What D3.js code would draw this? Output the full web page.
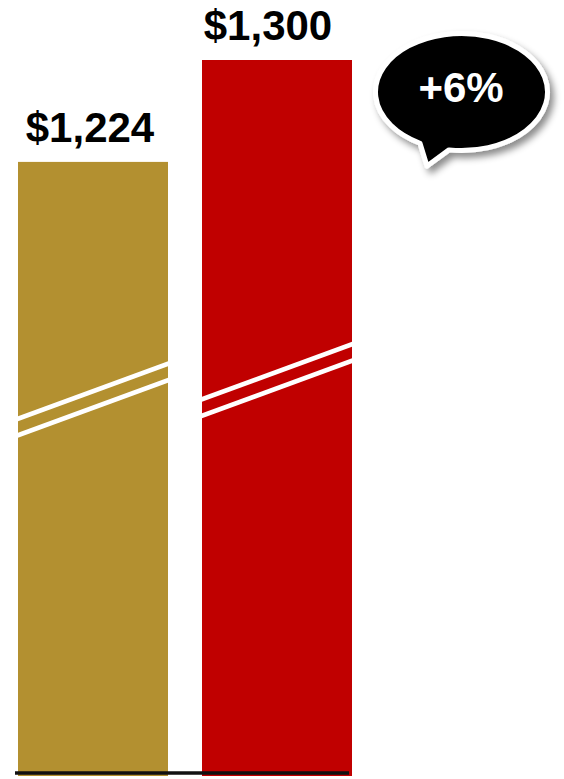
<!DOCTYPE html>
<html>
<head>
<meta charset="utf-8">
<script src="https://cdn.jsdelivr.net/npm/d3@7"></script>
<style>
  html, body { margin: 0; padding: 0; background: #fff; }
  svg { display: block; }
  .value-label { font-family: "Liberation Sans", Arial, sans-serif; font-weight: bold; font-size: 42px; fill: #000; }
  .bubble-label { font-family: "Liberation Sans", Arial, sans-serif; font-weight: bold; font-size: 42px; fill: #fff; }
</style>
</head>
<body>
<div id="chart"></div>
<script>
// chart data
const categories = ['before', 'after'];
const values = [1224, 1300];
const valueLabels = ['$1,224', '$1,300'];
const barColors = ['#B39030', '#C00000'];
const changeLabel = '+6%';

// chart static params
const width = 564, height = 779;
const baseY = 776;            // bars run a bit under the baseline
const axisFloor = 766;        // broken axis: value that sits at the bottom
const labelGap = 20;
const labelNudge = [-3, -9];
const breakMid = [399.5, 380];  // y of the break marks at bar centre
const breakSlope = -0.366;
const breakGap = 8.25;

const svg = d3.select('#chart')
  .append('svg')
    .attr('width', width)
    .attr('height', height);

// scales
const x = d3.scaleBand()
  .domain(categories)
  .range([18, 352])
  .paddingInner(34 / 184)
  .paddingOuter(0);

const y = d3.scaleLinear()
  .domain([axisFloor, 1300])
  .range([baseY, 60]);

const rows = categories.map((c, i) => ({ cat: c, value: values[i], label: valueLabels[i], color: barColors[i], i: i }));

// clip paths for the break marks
const defs = svg.append('defs');
rows.forEach(d => {
  defs.append('clipPath')
      .attr('id', 'clip-' + d.i)
    .append('rect')
      .attr('x', x(d.cat))
      .attr('y', y(d.value))
      .attr('width', x.bandwidth())
      .attr('height', baseY - y(d.value));
});

// bubble shadow
const shadow = defs.append('filter')
    .attr('id', 'shadow')
    .attr('x', '-20%').attr('y', '-20%')
    .attr('width', '150%').attr('height', '150%');
shadow.append('feDropShadow')
    .attr('dx', 4).attr('dy', 5)
    .attr('stdDeviation', 3.5)
    .attr('flood-color', '#000')
    .attr('flood-opacity', 0.45);

// bars
svg.selectAll('rect.bar')
  .data(rows)
  .join('rect')
    .attr('class', 'bar')
    .attr('x', d => x(d.cat))
    .attr('y', d => y(d.value))
    .attr('width', x.bandwidth())
    .attr('height', d => baseY - y(d.value))
    .attr('fill', d => d.color);

// break marks (two white diagonal stripes per bar)
rows.forEach(d => {
  const x0 = x(d.cat) - 5, x1 = x(d.cat) + x.bandwidth() + 5;
  const cx = x(d.cat) + x.bandwidth() / 2;
  const g = svg.append('g').attr('clip-path', 'url(#clip-' + d.i + ')');
  [-breakGap, breakGap].forEach(off => {
    g.append('line')
      .attr('x1', x0)
      .attr('y1', breakMid[d.i] + off + breakSlope * (x0 - cx))
      .attr('x2', x1)
      .attr('y2', breakMid[d.i] + off + breakSlope * (x1 - cx))
      .attr('stroke', '#fff')
      .attr('stroke-width', 4.7);
  });
});

// value labels
svg.selectAll('text.value-label')
  .data(rows)
  .join('text')
    .attr('class', 'value-label')
    .attr('text-anchor', 'middle')
    .attr('x', d => x(d.cat) + x.bandwidth() / 2 + labelNudge[d.i])
    .attr('y', d => y(d.value) - labelGap)
    .text(d => d.label);

// baseline
svg.append('line')
  .attr('x1', 15).attr('x2', 349)
  .attr('y1', 773).attr('y2', 773)
  .attr('stroke', '#111')
  .attr('stroke-width', 3.5);

// speech bubble with the change
const bcx = 461.5, bcy = 92, brx = 86, bry = 58.5;
const onEllipse = px => [px, bcy + bry * Math.sqrt(1 - Math.pow((px - bcx) / brx, 2))];
const tailL = onEllipse(420), tailR = onEllipse(449), tailTip = [427, 166];
const bubbleD = `M${tailL[0]},${tailL[1]} A${brx},${bry} 0 1 1 ${tailR[0]},${tailR[1]} L${tailTip[0]},${tailTip[1]} Z`;

const bubble = svg.append('g');
bubble.append('path')
  .attr('d', bubbleD)
  .attr('fill', '#000')
  .attr('stroke', '#fff')
  .attr('stroke-width', 5)
  .attr('stroke-linejoin', 'round')
  .attr('filter', 'url(#shadow)');
bubble.append('text')
  .attr('class', 'bubble-label')
  .attr('text-anchor', 'middle')
  .attr('x', 461)
  .attr('y', 102)
  .text(changeLabel);
</script>
</body>
</html>
